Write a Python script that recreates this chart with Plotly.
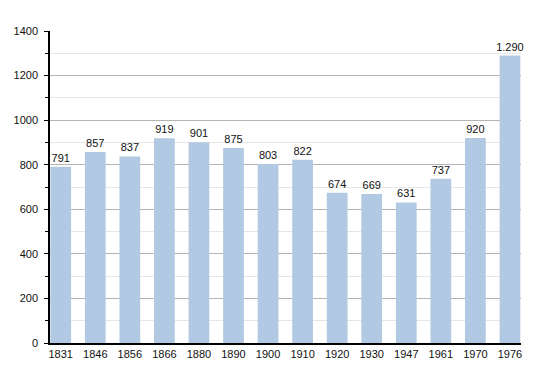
import plotly.graph_objects as go

years = ["1831", "1846", "1856", "1866", "1880", "1890", "1900", "1910",
         "1920", "1930", "1947", "1961", "1970", "1976"]
population = [791, 857, 837, 919, 901, 875, 803, 822, 674, 669, 631, 737, 920, 1290]
labels = ["791", "857", "837", "919", "901", "875", "803", "822", "674", "669",
          "631", "737", "920", "1.290"]

fig = go.Figure()
fig.add_trace(go.Bar(
    x=list(range(len(years))),
    y=population,
    text=labels,
    textposition="outside",
    constraintext="none",
    textfont=dict(family="Liberation Sans, Arial", size=11, color="#111111"),
    cliponaxis=False,
    width=0.6,
    marker=dict(color="#b1c9e3", line=dict(width=0)),
    hoverinfo="skip",
))

fig.update_layout(
    width=550, height=373,
    margin=dict(l=42, r=37, t=23, b=38, autoexpand=False),
    paper_bgcolor="white", plot_bgcolor="white",
    showlegend=False,
    font=dict(family="Liberation Sans, Arial", size=11, color="#111111"),
    bargap=0.4,
)
fig.update_xaxes(
    range=[-0.31, 13.32],
    automargin=False,
    tickmode="array",
    tickvals=list(range(len(years))),
    ticktext=years,
    showline=True, linecolor="black", linewidth=1.5,
    ticks="", showgrid=False, zeroline=False,
    tickfont=dict(size=11),
)
fig.update_yaxes(
    range=[0, 1400],
    automargin=False,
    tickmode="linear", tick0=0, dtick=200,
    showline=True, linecolor="black", linewidth=1.5,
    ticks="outside", ticklen=4, tickcolor="black", tickwidth=1,
    showgrid=True, gridcolor="#b4b4b4", gridwidth=1,
    zeroline=False,
    minor=dict(dtick=100, showgrid=True, gridcolor="#e6e6e6", gridwidth=1,
               ticks="outside", ticklen=3, tickcolor="black"),
    tickfont=dict(size=11),
    ticklabelstandoff=4,
)

fig.write_html("out.html")
